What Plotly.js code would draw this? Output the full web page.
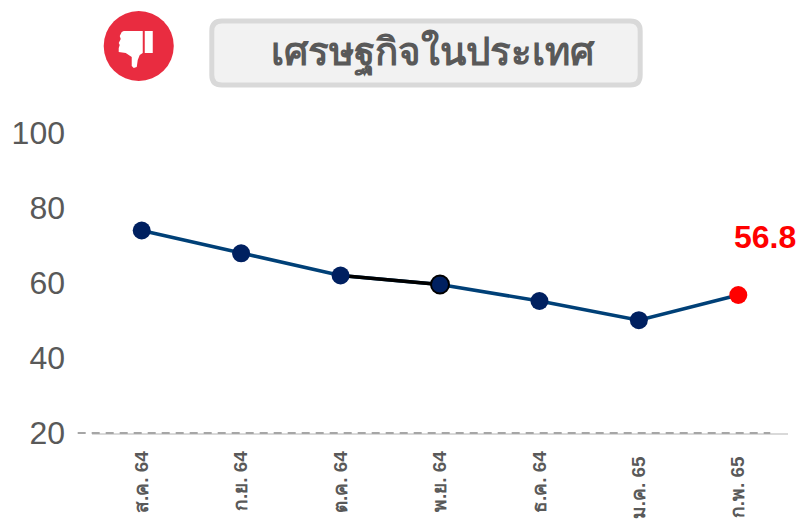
<!DOCTYPE html>
<html><head><meta charset="utf-8">
<script src="https://cdn.plot.ly/plotly-3.0.1.min.js"></script>
<style>html,body{margin:0;padding:0;background:#fff}</style></head>
<body><div id="chart" style="width:803px;height:521px"></div>
<script>
const months = ["ส.ค. 64","ก.ย. 64","ต.ค. 64","พ.ย. 64","ธ.ค. 64","ม.ค. 65","ก.พ. 65"];
const tickLabels = ["ส.ค. 64","ก.ย. 64","ต.ค. 64","พ.ย. 64","ธ.ค. 64","ม.ค. 65\u00A0","ก.พ. 65\u00A0"];
const values = [74, 67.9, 62, 59.6, 55.2, 50.1, 56.8];
const yTicks = [20, 40, 60, 80, 100];
const titleText = "เศรษฐกิจในประเทศ";
const lineBlue = "#004077", dotBlue = "#002060";
const W = 803, H = 521, L = 92.3, R = 15.3, T = 133, B = 88;
const fx = x => (x - L) / (W - L - R), fy = y => (H - B - y) / (H - T - B);
function P(pts){ return pts.map((p,i)=> (i?"L":"M") + fx(p[0]) + "," + fy(p[1])).join(" ") + " Z"; }
function rr(x0,y0,x1,y1,r){
  const a=fx, b=fy;
  return `M${a(x0+r)},${b(y0)} L${a(x1-r)},${b(y0)} Q${a(x1)},${b(y0)} ${a(x1)},${b(y0+r)} L${a(x1)},${b(y1-r)} Q${a(x1)},${b(y1)} ${a(x1-r)},${b(y1)} L${a(x0+r)},${b(y1)} Q${a(x0)},${b(y1)} ${a(x0)},${b(y1-r)} L${a(x0)},${b(y0+r)} Q${a(x0)},${b(y0)} ${a(x0+r)},${b(y0)} Z`;
}
const traces = [
 {x:months,y:values,type:"scatter",mode:"lines",line:{color:lineBlue,width:3.5},hoverinfo:"skip"},
 {x:months.slice(2,4),y:values.slice(2,4),type:"scatter",mode:"lines",line:{color:"#000",width:3.5},hoverinfo:"skip"},
 {x:months.slice(0,6),y:values.slice(0,6),type:"scatter",mode:"markers",
  marker:{size:18,color:dotBlue,opacity:1,
          line:{color:months.slice(0,6).map((m,i)=>i===3?"#000":dotBlue),width:months.slice(0,6).map((m,i)=>i===3?2:0)}}},
 {x:months.slice(6),y:values.slice(6),type:"scatter",mode:"markers",marker:{size:18,color:"#ff0000",opacity:1}}
];
const layout = {
 width:W,height:H,showlegend:false,paper_bgcolor:"#fff",plot_bgcolor:"#fff",
 margin:{l:L,r:R,t:T,b:B,pad:0},
 font:{family:"Liberation Sans, Arial, sans-serif"},
 xaxis:{type:"category",categoryorder:"array",categoryarray:months,range:[-0.5,6.5],tickmode:"array",tickvals:months,ticktext:tickLabels,
   tickangle:-90,showgrid:false,zeroline:false,showline:true,linecolor:"#d9d9d9",linewidth:1.5,ticks:"",ticklabelstandoff:9,
   tickfont:{family:"Liberation Sans, Noto Sans, sans-serif",size:19,color:"#595959",weight:"bold"},automargin:false},
 yaxis:{range:[20,100],tickmode:"array",tickvals:yTicks,ticktext:yTicks.map(String),showgrid:false,zeroline:false,showline:false,ticks:"",
   tickfont:{family:"Liberation Sans, Arial, sans-serif",size:32,color:"#595959"},ticklabelstandoff:26,automargin:false},
 shapes:[
  {type:"line",xref:"paper",yref:"paper",x0:fx(78),x1:fx(770),y0:fy(433),y1:fy(433),line:{color:"#a6a6a6",width:2,dash:"8px,6px"}},
  {type:"circle",xref:"paper",yref:"paper",x0:fx(104),x1:fx(174),y0:fy(11),y1:fy(81),fillcolor:"#e92c40",line:{width:0}},
  {type:"path",xref:"paper",yref:"paper",path:P([[122,32],[124,31],[143,31],[143,53],[140,55],[138,60],[137,67],[134,68],[132,66],[132,57],[126,53],[119,52],[119,48],[120,45],[119,43],[121,39],[120,36]]),fillcolor:"#fff",line:{width:0}},
  {type:"rect",xref:"paper",yref:"paper",x0:fx(145),x1:fx(153),y0:fy(31),y1:fy(53),fillcolor:"#fff",line:{width:0}},
  {type:"path",xref:"paper",yref:"paper",path:rr(212,21,640,85,10),fillcolor:"#f2f2f2",line:{color:"#d9d9d9",width:5}}
 ],
 annotations:[
  {xref:"paper",yref:"paper",x:fx(433),y:fy(50),text:titleText,showarrow:false,xanchor:"center",yanchor:"middle",
   font:{family:"Noto Sans, Liberation Sans, sans-serif",size:38.5,color:"#595959",weight:"bold"}},
  {x:months[6],y:values[6],text:values[6].toFixed(1),showarrow:false,xshift:27,yshift:58,xanchor:"center",yanchor:"middle",
   font:{family:"Liberation Sans, Arial, sans-serif",size:32,color:"#ff0000",weight:"bold"}}
 ]
};
Plotly.newPlot("chart",traces,layout,{displayModeBar:false,staticPlot:true});
</script></body></html>
